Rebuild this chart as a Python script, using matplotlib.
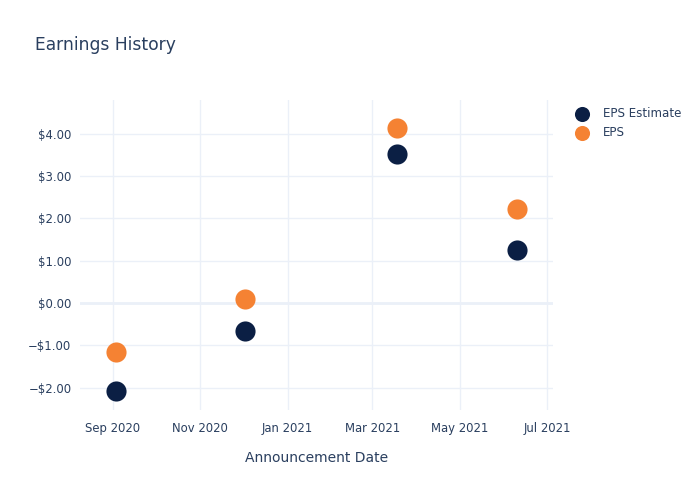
import numpy as np
import pandas as pd
import matplotlib
matplotlib.use("Agg")
import matplotlib.pyplot as plt
import matplotlib.dates as mdates
from matplotlib.ticker import FuncFormatter

plt.rcParams['font.family'] = ['DejaVu Sans']

# announcement dates and earnings per share
dates = pd.to_datetime(["2020-09-03", "2020-12-02", "2021-03-18", "2021-06-10"])
eps_estimate = [-2.08, -0.66, 3.53, 1.25]
eps_actual = [-1.16, 0.09, 4.14, 2.22]

text_col = "#2a3f5f"
grid_col = "#ebf0f8"

fig = plt.figure(figsize=(7, 5), dpi=100)
ax = fig.add_axes([0.114, 0.18, 0.676, 0.62])

ax.scatter(dates, eps_estimate, s=210, color="#0b1f44", zorder=3, label="EPS Estimate", linewidths=0)
ax.scatter(dates, eps_actual, s=210, color="#f58233", zorder=3, label="EPS", linewidths=0)

ax.set_xlim(pd.Timestamp("2020-08-09"), pd.Timestamp("2021-07-05"))
ax.set_ylim(-2.53, 4.80)

ax.xaxis.set_major_locator(mdates.MonthLocator(bymonth=[1, 3, 5, 7, 9, 11]))
ax.xaxis.set_major_formatter(mdates.DateFormatter("%b %Y"))
ax.set_yticks([-2, -1, 0, 1, 2, 3, 4])
ax.yaxis.set_major_formatter(FuncFormatter(lambda v, p: ("\u2212$%.2f" % -v) if v < 0 else "$%.2f" % v))

ax.grid(True, color=grid_col, linewidth=1)
ax.axhline(0, color=grid_col, linewidth=2, zorder=1)
ax.set_axisbelow(True)
for s in ax.spines.values():
    s.set_visible(False)
ax.tick_params(length=0, labelsize=8.4, colors=text_col)
ax.tick_params(axis="x", pad=8.5)
ax.tick_params(axis="y", pad=6)

ax.set_xlabel("Announcement Date", fontsize=10, color=text_col, labelpad=11.5)
fig.text(0.05, 0.9, "Earnings History", fontsize=12.3, color=text_col)

ax.legend(loc="upper left", bbox_to_anchor=(0.808, 0.795), bbox_transform=fig.transFigure,
          frameon=False, fontsize=8.6, labelcolor=text_col, handletextpad=0.7,
          labelspacing=0.5, borderaxespad=0, markerscale=0.75)

fig.savefig("out.png", dpi=100)
